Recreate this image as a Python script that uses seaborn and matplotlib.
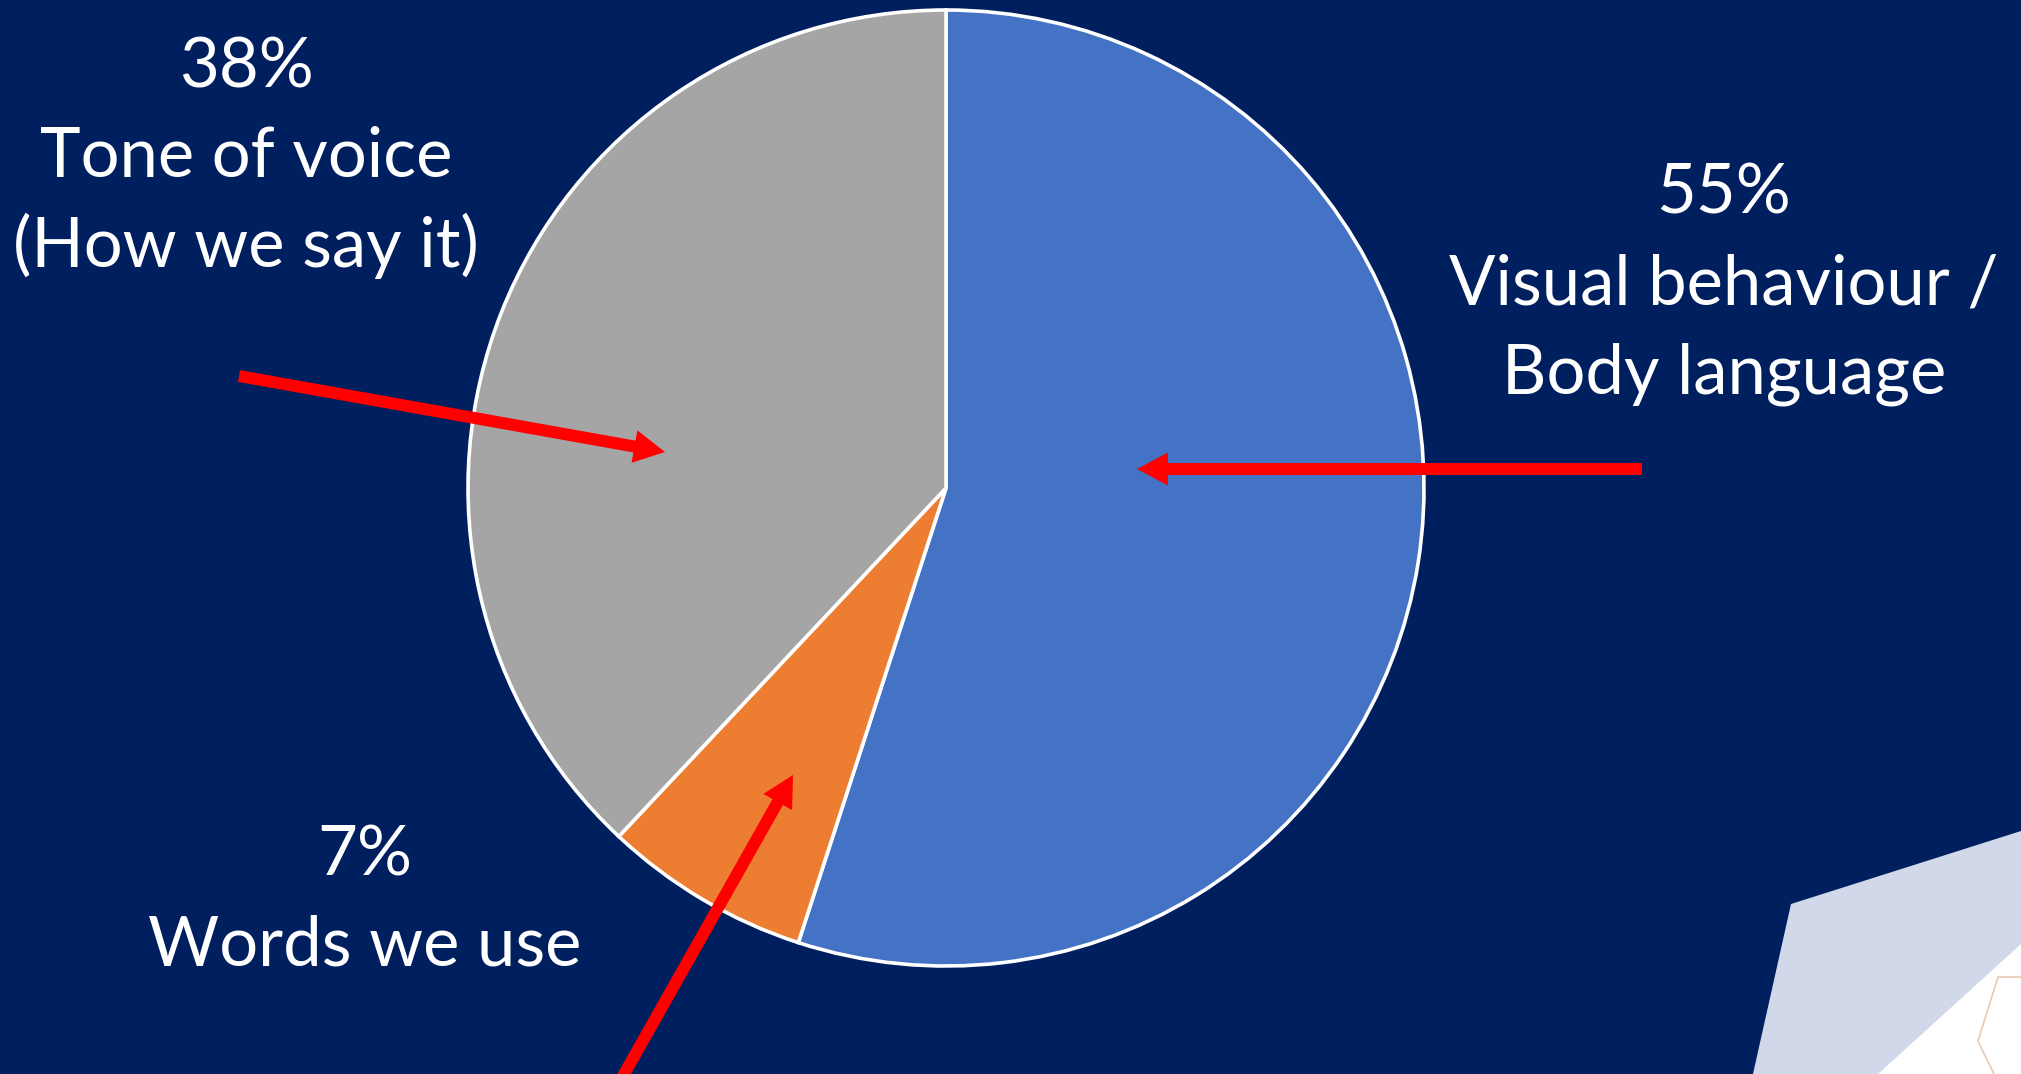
import matplotlib
matplotlib.use("Agg")
import matplotlib.pyplot as plt
import seaborn as sns
from matplotlib.patches import FancyArrow, Polygon

# ---- data ----
categories = ["Visual behaviour / Body language", "Words we use", "Tone of voice"]
shares = [55, 7, 38]
colors = ["#4472C4", "#ED7D31", "#A5A5A5"]
label_pct = ["55%", "7%", "38%"]
label_lines = [["Visual behaviour /", "Body language"], ["Words we use"], ["Tone of voice", "(How we say it)"]]

W, H = 2021, 1074
BG = "#001F5F"

sns.set_theme(style="white")
plt.rcParams['font.family'] = ['Lato', 'DejaVu Sans']

fig = plt.figure(figsize=(W / 100, H / 100), dpi=100, facecolor=BG)
ax = fig.add_axes([0, 0, 1, 1])
ax.set_facecolor(BG)

def py(y):
    return H - y

# decoration in lower-right corner
ax.add_patch(Polygon([(1791, py(904)), (W, py(831)), (W, py(H)), (1753, py(H))],
                     closed=True, facecolor="#D1D8EA", edgecolor="none", zorder=1))
ax.add_patch(Polygon([(1878, py(H)), (W, py(944)), (W, py(H))],
                     closed=True, facecolor="#FFFFFF", edgecolor="none", zorder=1))
ax.plot([2021, 1998, 1978, 1994], [py(977), py(977), py(1041), py(1074)],
        color="#E9C9B5", lw=1.2, zorder=2)

# pie
ax.pie(shares, colors=colors, startangle=90, counterclock=False,
       center=(946, py(488)), radius=478, frame=True,
       wedgeprops=dict(edgecolor="white", linewidth=2.6))
ax.set_xlim(0, W)
ax.set_ylim(0, H)
ax.set_aspect("auto")
ax.axis("off")

# labels
FS = 49.5
def block(x, y0, lines):
    for i, t in enumerate(lines):
        ax.text(x, py(y0 + 90 * i), t, color="white", fontsize=FS,
                ha="center", va="baseline", zorder=5)

block(1724, 214, [label_pct[0]] + label_lines[0])
block(365, 876, [label_pct[1]] + label_lines[1])
block(246, 87, [label_pct[2]] + label_lines[2])

# arrows (tail -> tip), pixel positions
arrows = [((1642, 469), (1137, 469)),
          ((239, 376), (665, 452)),
          ((614, 1092), (793, 775))]
for (x0, y0), (x1, y1) in arrows:
    ax.add_patch(FancyArrow(x0, py(y0), x1 - x0, py(y1) - py(y0), width=12,
                            head_width=33, head_length=31, length_includes_head=True,
                            color="#FF0000", lw=0, zorder=6))

fig.savefig("out.png", dpi=100, facecolor=BG)
